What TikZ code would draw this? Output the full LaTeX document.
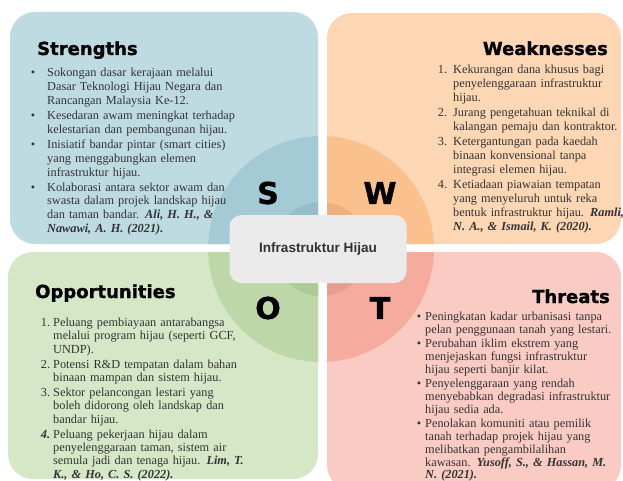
\documentclass[tikz,border=0pt]{standalone}
\usepackage{fontspec}
\setmainfont{Liberation Serif}
\newfontfamily\headfont[FakeBold=1.2]{DejaVu Sans Bold}
\newfontfamily\centerfont{Liberation Sans}
\usepackage{enumitem}
\definecolor{sbox}{HTML}{BFDBE2}
\definecolor{scirc}{HTML}{A3CAD5}
\definecolor{sinner}{HTML}{93BECA}
\definecolor{wbox}{HTML}{FDD6B3}
\definecolor{wcirc}{HTML}{FAC08E}
\definecolor{winner}{HTML}{F0AF80}
\definecolor{obox}{HTML}{D6E7C8}
\definecolor{ocirc}{HTML}{BDD7A8}
\definecolor{oinner}{HTML}{ACCA96}
\definecolor{tbox}{HTML}{F9CBC3}
\definecolor{tcirc}{HTML}{F5AC9F}
\definecolor{tinner}{HTML}{EA9C90}
\definecolor{bodytext}{HTML}{333333}
\definecolor{centerbox}{HTML}{EBEBEB}
\tikzset{
  quadbox/.style={rounded corners=25pt},
  titletext/.style={font=\headfont\fontsize{18}{20}\selectfont, text=black, inner sep=0pt},
  bigletter/.style={font=\headfont\fontsize{30}{32}\selectfont, text=black, inner sep=0pt},
  listnode/.style={inner sep=0pt, text width=215pt, align=left, text=bodytext,
    font=\fontsize{12.3}{13.9}\selectfont},
}
\newcommand{\citebi}[1]{\textbf{\textit{#1}}}
\begin{document}
\begin{tikzpicture}[x=1pt,y=-1pt]
\useasboundingbox (0,0) rectangle (623,481);
\fill[white] (0,0) rectangle (623,481);
% quadrant boxes
\fill[sbox, quadbox] (10,12) rectangle (318,244);
\fill[wbox, quadbox] (327,13) rectangle (621,244);
\fill[obox, quadbox] (8,252) rectangle (318,479);
\fill[tbox, quadbox] (327,252) rectangle (621,490);
% circles clipped per quadrant
\begin{scope}
\clip[quadbox] (10,12) rectangle (318,244);
\fill[scirc] (321,249) circle (113);
\fill[sinner] (321,249) circle (47);
\end{scope}
\begin{scope}
\clip[quadbox] (327,13) rectangle (621,244);
\fill[wcirc] (321,249) circle (113);
\fill[winner] (321,249) circle (47);
\end{scope}
\begin{scope}
\clip[quadbox] (8,252) rectangle (318,479);
\fill[ocirc] (321,249) circle (113);
\fill[oinner] (321,249) circle (47);
\end{scope}
\begin{scope}
\clip[quadbox] (327,252) rectangle (621,490);
\fill[tcirc] (321,249) circle (113);
\fill[tinner] (321,249) circle (47);
\end{scope}
% center box
\node[fill=centerbox, rounded corners=12pt, minimum width=177pt, minimum height=68pt,
  font=\centerfont\bfseries\fontsize{13.6}{15}\selectfont, text=bodytext] (center) at (318,249) {Infrastruktur Hijau};
% big letters
\node[bigletter] (S) at (268,193) {S};
\node[bigletter] (W) at (380,193) {W};
\node[bigletter] (O) at (268,308) {O};
\node[bigletter] (T) at (380,308) {T};
% titles
\node[titletext, anchor=base west] (st) at (37,55) {Strengths};
\node[titletext, anchor=base east] (wt) at (608,55) {Weaknesses};
\node[titletext, anchor=base west] (ot) at (35,298) {Opportunities};
\node[titletext, anchor=base east] (tt) at (610,303) {Threats};
% Strengths list
\node[listnode, anchor=base west] (slist) at (29,63) {%
\begin{itemize}[label=\textbullet, leftmargin=18pt, labelsep=12pt, itemsep=1pt, topsep=0pt, parsep=0pt, partopsep=0pt]
\item Sokongan dasar kerajaan melalui\\ Dasar Teknologi Hijau Negara dan\\ Rancangan Malaysia Ke-12.
\item Kesedaran awam meningkat terhadap\\ kelestarian dan pembangunan hijau.
\item Inisiatif bandar pintar (smart cities)\\ yang menggabungkan elemen\\ infrastruktur hijau.
\item Kolaborasi antara sektor awam dan\\ swasta dalam projek landskap hijau\\ dan taman bandar. \citebi{Ali, H. H., \&}\\ \citebi{Nawawi, A. H. (2021).}
\end{itemize}};
% Weaknesses list
\node[listnode, anchor=base west] (wlist) at (437,60) {%
\begin{enumerate}[label=\arabic*., leftmargin=16pt, labelsep=6pt, itemsep=1.2pt, topsep=0pt, parsep=0pt, partopsep=0pt]
\item Kekurangan dana khusus bagi\\ penyelenggaraan infrastruktur\\ hijau.
\item Jurang pengetahuan teknikal di\\ kalangan pemaju dan kontraktor.
\item Ketergantungan pada kaedah\\ binaan konvensional tanpa\\ integrasi elemen hijau.
\item Ketiadaan piawaian tempatan\\ yang menyeluruh untuk reka\\ bentuk infrastruktur hijau. \citebi{Ramli,}\\ \citebi{N. A., \& Ismail, K. (2020).}
\end{enumerate}};
% Opportunities list
\node[listnode, anchor=base west, font=\fontsize{12.3}{13.4}\selectfont] (olist) at (42,313) {%
\begin{enumerate}[label=\arabic*., leftmargin=11pt, labelsep=3pt, itemsep=1.5pt, topsep=0pt, parsep=0pt, partopsep=0pt]
\item Peluang pembiayaan antarabangsa\\ melalui program hijau (seperti GCF,\\ UNDP).
\item Potensi R\&D tempatan dalam bahan\\ binaan mampan dan sistem hijau.
\item Sektor pelancongan lestari yang\\ boleh didorong oleh landskap dan\\ bandar hijau.
\item[\citebi{4.}] Peluang pekerjaan hijau dalam\\ penyelenggaraan taman, sistem air\\ semula jadi dan tenaga hijau. \citebi{Lim, T.}\\ \citebi{K., \& Ho, C. S. (2022).}
\end{enumerate}};
% Threats list
\node[listnode, anchor=base west, font=\fontsize{12.3}{12.8}\selectfont] (tlist) at (416,308) {%
\begin{itemize}[label=\textbullet, leftmargin=9pt, labelsep=4pt, itemsep=1.5pt, topsep=0pt, parsep=0pt, partopsep=0pt]
\item Peningkatan kadar urbanisasi tanpa\\ pelan penggunaan tanah yang lestari.
\item Perubahan iklim ekstrem yang\\ menjejaskan fungsi infrastruktur\\ hijau seperti banjir kilat.
\item Penyelenggaraan yang rendah\\ menyebabkan degradasi infrastruktur\\ hijau sedia ada.
\item Penolakan komuniti atau pemilik\\ tanah terhadap projek hijau yang\\ melibatkan pengambilalihan\\ kawasan. \citebi{Yusoff, S., \& Hassan, M.}\\ \citebi{N. (2021).}
\end{itemize}};
\end{tikzpicture}
\end{document}
